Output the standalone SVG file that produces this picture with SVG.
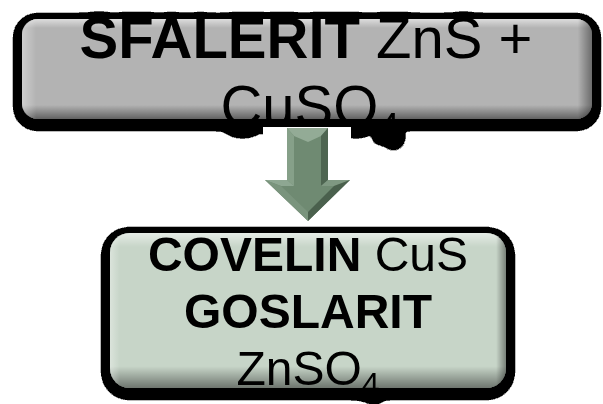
<svg xmlns="http://www.w3.org/2000/svg" width="603" height="404" viewBox="0 0 603 404">
<defs>
<filter id="sh" filterUnits="userSpaceOnUse" x="0" y="0" width="603" height="404">
<feOffset in="SourceAlpha" dy="3" result="o"/>
<feGaussianBlur in="o" stdDeviation="5" result="b"/>
<feComponentTransfer in="b" result="t"><feFuncA type="linear" slope="100" intercept="-0.9"/></feComponentTransfer>
<feMerge><feMergeNode in="t"/><feMergeNode in="SourceGraphic"/></feMerge>
</filter>
<linearGradient id="bevV" x1="0" y1="0" x2="0" y2="1">
<stop offset="0" stop-color="#fff" stop-opacity="0.55"/>
<stop offset="0.09" stop-color="#fff" stop-opacity="0"/>
<stop offset="0.86" stop-color="#000" stop-opacity="0"/>
<stop offset="1" stop-color="#000" stop-opacity="0.45"/>
</linearGradient>
<linearGradient id="bevH" x1="0" y1="0" x2="1" y2="0">
<stop offset="0" stop-color="#fff" stop-opacity="0.35"/>
<stop offset="0.025" stop-color="#fff" stop-opacity="0"/>
<stop offset="0.975" stop-color="#000" stop-opacity="0"/>
<stop offset="1" stop-color="#000" stop-opacity="0.4"/>
</linearGradient>
<style>
.t{font-family:"Liberation Sans",Arial,sans-serif;fill:#000;text-anchor:middle}
.b{font-weight:bold}
</style>
</defs>

<g id="node-sfalerit" filter="url(#sh)">
<rect x="22" y="19" width="570" height="100" rx="16" fill="#b3b3b3"/>
<rect x="22" y="19" width="570" height="100" rx="16" fill="url(#bevV)"/>
<rect x="22" y="19" width="570" height="100" rx="16" fill="url(#bevH)"/>
<text class="t" font-size="58"><tspan x="306" y="58"><tspan class="b">SFALERIT</tspan> ZnS +</tspan><tspan x="310" y="126">CuSO<tspan dy="14" font-size="38">4</tspan></tspan></text>
</g>

<g id="connectors">
<rect x="263" y="127" width="88" height="96" fill="#fff"/>
<polygon points="287,128 328,128 328,180 350,180 308,221 265,180 287,180" fill="#6f8a72"/>
<polygon points="287,128 328,128 321,136 308,142 294,136" fill="#93ab96"/>
<polygon points="287,128 294,136 294,186 287,180" fill="#86a089"/>
<polygon points="328,128 328,180 321,186 321,136" fill="#4e6551"/>
<polygon points="265,180 287,180 294,186 281,186" fill="#8ea792"/>
<polygon points="328,180 350,180 334,186 321,186" fill="#7f9882"/>
<polygon points="265,180 281,186 308,212 308,221" fill="#7a947d"/>
<polygon points="350,180 308,221 308,212 334,186" fill="#4a604d"/>
</g>

<g id="node-covelin" filter="url(#sh)">
<rect x="110" y="233" width="396" height="155" rx="20" fill="#c7d5c8"/>
<rect x="110" y="233" width="396" height="155" rx="20" fill="url(#bevV)"/>
<rect x="110" y="233" width="396" height="155" rx="20" fill="url(#bevH)"/>
<text class="t" font-size="48"><tspan x="308" y="271"><tspan class="b">COVELIN</tspan> CuS</tspan><tspan class="b" x="308" y="328">GOSLARIT</tspan><tspan x="308" y="385">ZnSO<tspan dy="10" font-size="32">4</tspan></tspan></text>
</g>
</svg>
